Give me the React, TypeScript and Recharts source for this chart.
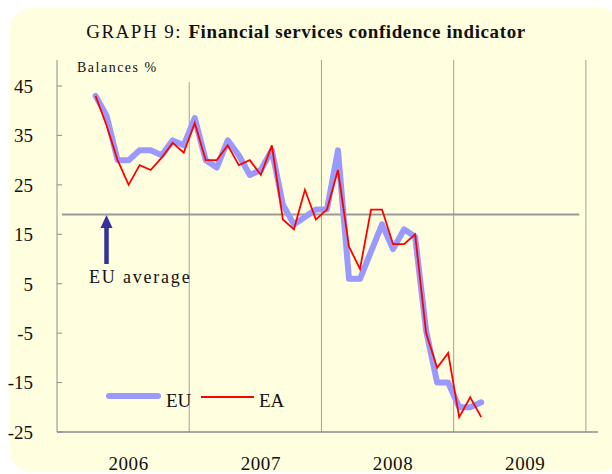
import React from "react"
import { LineChart, Line, XAxis, YAxis, ReferenceLine } from "recharts"

// monthly survey, April 2006 .. March 2009
const months = [
  "2006-04", "2006-05", "2006-06", "2006-07", "2006-08", "2006-09", "2006-10", "2006-11", "2006-12",
  "2007-01", "2007-02", "2007-03", "2007-04", "2007-05", "2007-06", "2007-07", "2007-08", "2007-09",
  "2007-10", "2007-11", "2007-12",
  "2008-01", "2008-02", "2008-03", "2008-04", "2008-05", "2008-06", "2008-07", "2008-08", "2008-09",
  "2008-10", "2008-11", "2008-12",
  "2009-01", "2009-02", "2009-03",
]

const euValues = [
  43, 39, 30, 30, 32, 32, 31, 34, 33,
  38.5, 30, 28.5, 34, 31, 27, 28, 32, 21, 17, 18.5, 20,
  20, 32, 6, 6, 11.5, 17, 12, 16, 14.5, -4.5, -15, -15,
  -20, -20, -19,
]

const eaValues = [
  43, 37, 30, 25, 29, 28, 30.5, 33.5, 31.5,
  37.5, 30, 30, 33, 29, 30, 27, 33, 18, 16, 24, 18,
  20, 28, 12.5, 8, 20, 20, 13, 13, 15, -5, -12, -9,
  -22, -18, -22,
]

const yearLabels = ["2006", "2007", "2008", "2009"]
const yTicks = [-25, -15, -5, 5, 15, 25, 35, 45]
const euAverage = 19

const FIRST_YEAR = 2006
const serif = '"Liberation Serif", "Times New Roman", serif'
const PLOT_LEFT = 57

const data = months.map((m, i) => {
  const [y, mo] = m.split("-").map(Number)
  return { x: (y - FIRST_YEAR) * 12 + (mo - 1) + 0.5, eu: euValues[i], ea: eaValues[i] }
})

const yearCenters = yearLabels.map((_, i) => i * 12 + 6.5)

const YTick = (props: any) => {
  const { y, payload } = props
  return (
    <g>
      <line x1={PLOT_LEFT} x2={PLOT_LEFT + 5} y1={y} y2={y} stroke="#8c8c8c" />
      <text x={33} y={y} dy="0.36em" textAnchor="end" fontFamily={serif} fontSize={19} fill="#111">
        {payload.value}
      </text>
    </g>
  )
}

const XTick = (props: any) => {
  const { x, y, payload } = props
  const idx = yearCenters.indexOf(payload.value)
  return (
    <text x={x} y={y + 29} dy="0.36em" textAnchor="middle" fontFamily={serif} fontSize={19} letterSpacing={0.6} fill="#111">
      {yearLabels[idx]}
    </text>
  )
}

export default function App() {
  return (
    <div style={{ position: "absolute", left: 0, top: 0, width: 612, height: 474 }}>
      <div
        style={{
          position: "absolute",
          left: 10,
          top: 8,
          width: 612,
          height: 464,
          borderRadius: 22,
          background: "#FFFFE0",
        }}
      />
      <div style={{ position: "absolute", left: 0, top: 0 }}>
        <LineChart width={612} height={474} data={data} margin={{ top: 60, right: 14, bottom: 12, left: 0 }}>
          <XAxis
            dataKey="x"
            type="number"
            domain={[0, 49.1]}
            ticks={yearCenters}
            tick={<XTick />}
            tickLine={false}
            tickSize={0}
            axisLine={{ stroke: "#8c8c8c", strokeWidth: 1.5 }}
            height={30}
            interval={0}
          />
          <YAxis
            type="number"
            domain={[-25, 50.26]}
            ticks={yTicks}
            tick={<YTick />}
            tickLine={false}
            axisLine={{ stroke: "#8c8c8c", strokeWidth: 1 }}
            width={PLOT_LEFT}
            interval={0}
          />
          <ReferenceLine segment={[{ x: 12, y: 45.8 }, { x: 12, y: -25 }]} stroke="#a0a0a0" strokeWidth={1} />
          <ReferenceLine x={24} stroke="#a0a0a0" strokeWidth={1} />
          <ReferenceLine x={36} stroke="#a0a0a0" strokeWidth={1} />
          <ReferenceLine x={48} stroke="#a0a0a0" strokeWidth={1} />
          <ReferenceLine
            segment={[{ x: 0.45, y: euAverage }, { x: 47.4, y: euAverage }]}
            stroke="#999999"
            strokeWidth={2}
          />
          <Line
            dataKey="eu"
            name="EU"
            stroke="#9999FF"
            strokeWidth={6}
            strokeLinejoin="round"
            strokeLinecap="round"
            dot={false}
            isAnimationActive={false}
          />
          <Line
            dataKey="ea"
            name="EA"
            stroke="#FF0000"
            strokeWidth={1.8}
            dot={false}
            isAnimationActive={false}
          />
        </LineChart>
      </div>
      <svg width={612} height={474} style={{ position: "absolute", left: 0, top: 0, pointerEvents: "none" }}>
        <text x={306} y={38} textAnchor="middle" fontFamily={serif} fontSize={19} fill="#111">
          <tspan letterSpacing={1.5}>GRAPH 9:  </tspan>
          <tspan fontWeight="bold" letterSpacing={0.6}>Financial services confidence indicator</tspan>
        </text>
        <text x={77} y={72} fontFamily={serif} fontSize={14} letterSpacing={1.5} fill="#111">
          Balances %
        </text>
        <line x1={106.5} x2={106.5} y1={264} y2={224} stroke="#333399" strokeWidth={4.5} />
        <polygon points="100.5,228 112.5,228 106.5,215" fill="#333399" />
        <text x={89} y={283} fontFamily={serif} fontSize={18} letterSpacing={1.8} fill="#111">
          EU average
        </text>
        {/* legend */}
        <line x1={109} x2={158} y1={396} y2={396} stroke="#9999FF" strokeWidth={6} strokeLinecap="round" />
        <text x={166} y={400} dy="0.36em" fontFamily={serif} fontSize={19} fill="#111">EU</text>
        <line x1={201} x2={254} y1={397} y2={397} stroke="#FF0000" strokeWidth={1.8} />
        <text x={259} y={400} dy="0.36em" fontFamily={serif} fontSize={19} fill="#111">EA</text>
      </svg>
    </div>
  )
}
